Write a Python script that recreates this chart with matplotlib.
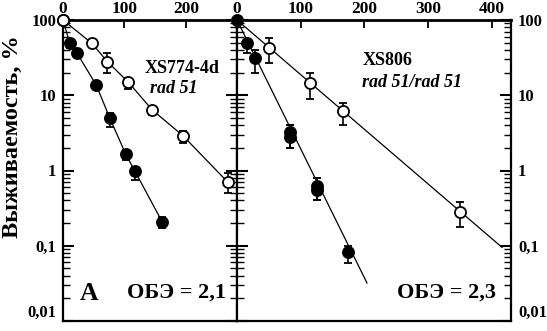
"""Survival curves of two yeast strains, two panels on a log scale."""

import matplotlib
matplotlib.use("Agg")
import matplotlib.pyplot as plt
from matplotlib.ticker import FixedLocator, LogLocator, NullFormatter

plt.rcParams["font.family"] = ["Liberation Serif", "DejaVu Serif"]
plt.rcParams["font.weight"] = "bold"

# --- panel A: XS774-4d rad 51 (points joined by lines) ---
a_open_x = [0, 47, 72, 106, 145, 195, 268]
a_open_y = [100, 49, 28, 15, 6.4, 2.9, 0.70]
a_open_hi = [100, 53, 36, 17, 7.0, 3.3, 0.93]
a_open_lo = [100, 45, 20, 12, 5.5, 2.3, 0.50]

a_full_x = [0, 11, 23, 54, 76, 102, 117, 161]
a_full_y = [100, 49, 36, 13.7, 5.0, 1.65, 0.98, 0.21]
a_full_hi = [100, 52, 39, 15, 5.8, 1.9, 1.1, 0.24]
a_full_lo = [100, 43, 33, 12.5, 3.8, 1.4, 0.75, 0.17]

# --- panel B: XS806 rad 51/rad 51 (points plus fitted lines) ---
b_open_x = [50, 115, 166, 350]
b_open_y = [42, 14.5, 6.2, 0.28]
b_open_hi = [57, 20, 8, 0.38]
b_open_lo = [27, 9, 4, 0.18]
b_open_fit_x = [0, 416]
b_open_fit_y = [100, 0.095]

b_full_x = [0, 16, 28, 83, 83, 125, 125, 174]
b_full_y = [100, 49, 31, 2.8, 3.2, 0.55, 0.62, 0.082]
b_full_hi = [100, 54, 40, 4.0, 4.0, 0.8, 0.8, 0.10]
b_full_lo = [100, 36, 20, 2.0, 2.0, 0.4, 0.4, 0.059]
b_full_fit_x = [0, 204]
b_full_fit_y = [100, 0.032]

y_ticks = [100, 10, 1, 0.1, 0.01]
y_labels = ["100", "10", "1", "0,1", "0,01"]
a_xticks = [0, 100, 200]
b_xticks = [0, 100, 200, 300, 400]

W, H = 547, 331
fig = plt.figure(figsize=(W / 100, H / 100), dpi=100)
top, bottom = 20, 321
axA = fig.add_axes([63 / W, 1 - bottom / H, (237 - 63) / W, (bottom - top) / H])
axB = fig.add_axes([237 / W, 1 - bottom / H, (511 - 237) / W, (bottom - top) / H])


def errs(y, lo, hi):
    return [[v - l for v, l in zip(y, lo)], [h - v for v, h in zip(y, hi)]]


def points(ax, x, y, lo, hi, face):
    ax.errorbar(x, y, yerr=errs(y, lo, hi), fmt="o", ms=8, mfc=face, mec="black",
                mew=1.3, ecolor="black", elinewidth=1.2, capsize=3, capthick=1.2,
                zorder=3)


def style(ax, xmax, xticks, left_labels):
    ax.set_yscale("log")
    ax.set_ylim(0.01, 100)
    ax.set_xlim(0, xmax)
    ax.yaxis.set_major_locator(FixedLocator(y_ticks))
    ax.set_yticklabels(y_labels)
    ax.yaxis.set_minor_locator(LogLocator(base=10, subs=range(2, 10)))
    ax.yaxis.set_minor_formatter(NullFormatter())
    ax.set_xticks(xticks)
    ax.set_xticklabels([str(t) for t in xticks])
    ax.xaxis.tick_top()
    ax.tick_params(axis="x", which="major", direction="in", length=6, width=1.3,
                   top=True, bottom=False, labeltop=True, labelbottom=False,
                   labelsize=12.5, pad=2)
    ax.tick_params(axis="y", which="major", direction="in", length=8, width=1.5,
                   left=True, right=True, labelleft=left_labels,
                   labelright=not left_labels, labelsize=12, pad=5)
    ax.tick_params(axis="y", which="minor", direction="in", length=5, width=1.0,
                   left=True, right=True)
    for s in ax.spines.values():
        s.set_linewidth(1.6)
    ax.spines["top"].set_linewidth(2.0)
    for lab in ax.get_xticklabels() + ax.get_yticklabels():
        lab.set_fontweight("bold")


# panel A
axA.plot(a_open_x, a_open_y, color="black", lw=0.9, zorder=2)
axA.plot(a_full_x, a_full_y, color="black", lw=0.9, zorder=2)
points(axA, a_full_x, a_full_y, a_full_lo, a_full_hi, "black")
points(axA, a_open_x, a_open_y, a_open_lo, a_open_hi, "white")
style(axA, 283, a_xticks, True)

# panel B
axB.plot(b_open_fit_x, b_open_fit_y, color="black", lw=0.9, zorder=2)
axB.plot(b_full_fit_x, b_full_fit_y, color="black", lw=0.9, zorder=2)
points(axB, b_open_x, b_open_y, b_open_lo, b_open_hi, "white")
points(axB, b_full_x, b_full_y, b_full_lo, b_full_hi, "black")
style(axB, 430, b_xticks, False)

for ax in (axA, axB):
    for c in ax.collections + ax.lines:
        c.set_clip_on(False)

# the lowest tick label sits on the bottom edge, nudge it up a little
for lab in axA.get_yticklabels() + axB.get_yticklabels():
    if lab.get_text() == "0,01":
        lab.set_va("bottom")

# annotations
axA.text(0.471, 0.84, "XS774-4d", transform=axA.transAxes, fontsize=13,
         fontweight="bold", ha="left", va="center")
axA.text(0.50, 0.774, "rad 51", transform=axA.transAxes, fontsize=13,
         fontweight="bold", style="italic", ha="left", va="center")
axA.text(0.098, 0.09, "А", transform=axA.transAxes, fontsize=18.5,
         fontweight="bold", ha="left", va="center")
axA.text(0.368, 0.093, "ОБЭ = 2,1", transform=axA.transAxes, fontsize=16,
         fontweight="bold", ha="left", va="center")

axB.text(0.46, 0.864, "XS806", transform=axB.transAxes, fontsize=13,
         fontweight="bold", ha="left", va="center")
axB.text(0.456, 0.794, "rad 51/rad 51", transform=axB.transAxes, fontsize=13,
         fontweight="bold", style="italic", ha="left", va="center")
axB.text(0.584, 0.093, "ОБЭ = 2,3", transform=axB.transAxes, fontsize=16,
         fontweight="bold", ha="left", va="center")

fig.text(12.5 / W, 1 - 137 / H, "Выживаемость, %", rotation=90, fontsize=17.5,
         fontweight="bold", ha="center", va="center")

fig.savefig("out.png", dpi=100)
